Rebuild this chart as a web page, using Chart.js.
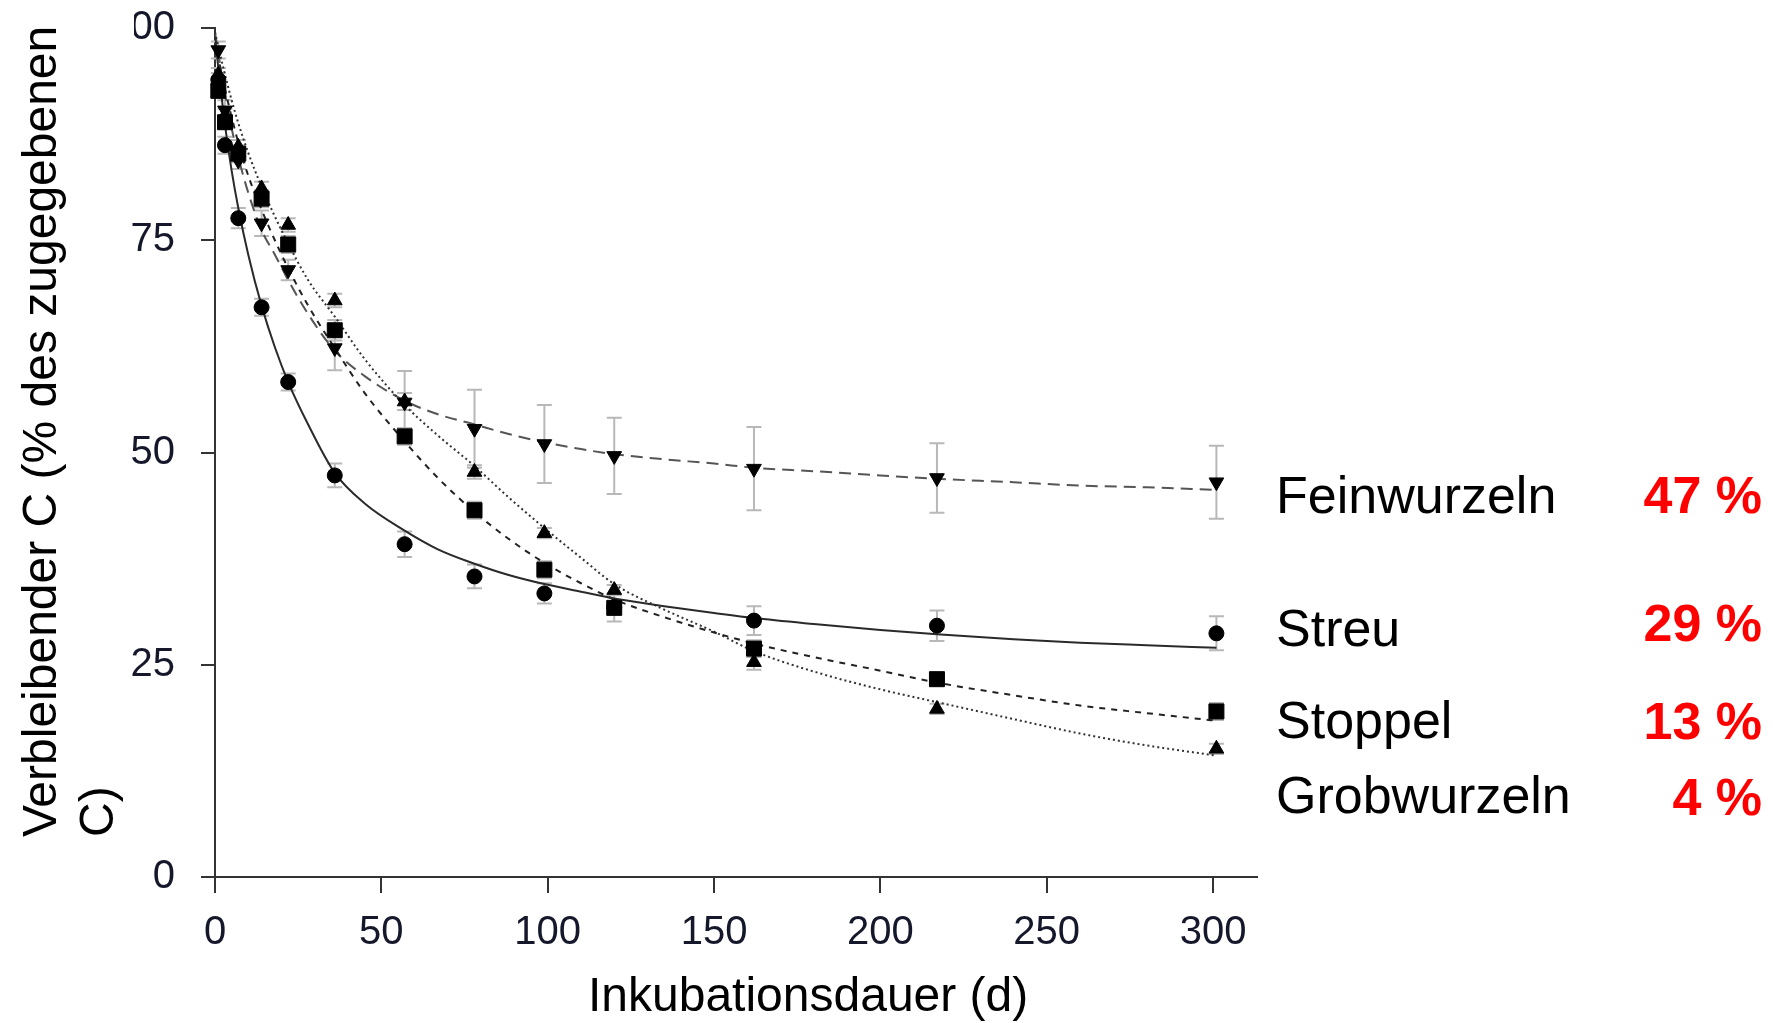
<!DOCTYPE html>
<html lang="de">
<head>
<meta charset="utf-8">
<title>Verbleibender C</title>
<script src="https://cdn.jsdelivr.net/npm/chart.js@4.4.1/dist/chart.umd.min.js"></script>
<style>
  html, body { margin: 0; padding: 0; background: #fff; }
  #wrap { position: relative; width: 1773px; height: 1023px; overflow: hidden; font-family: "Liberation Sans", Arial, sans-serif; }
  #chart { position: absolute; left: 0; top: 0; }
  .ytitle { position: absolute; left: 0; top: 0; transform-origin: 0 0; transform: translate(11px, 837px) rotate(-90deg);
            font-size: 48px; line-height: 57px; white-space: nowrap; color: #000; }
  .xtitle { position: absolute; left: 588px; top: 971px; font-size: 48px; line-height: 48px; white-space: nowrap; color: #000; }
  .lab { position: absolute; left: 1276px; font-size: 52px; line-height: 52px; white-space: nowrap; color: #000; }
  .pct { position: absolute; right: 11px; font-size: 52px; line-height: 52px; font-weight: bold; white-space: nowrap; color: #ff0000; }
</style>
</head>
<body>
<div id="wrap">
  <canvas id="chart" width="1773" height="1023"></canvas>
  <div class="ytitle">Verbleibender C (% des zugegebenen<br>C)</div>
  <div class="xtitle">Inkubationsdauer (d)</div>
</div>
<script>
// sampling days and measured values (% of added C remaining)
const days = [1, 3, 7, 14, 22, 36, 57, 78, 99, 120, 162, 217, 301];
const streu = [93.9, 86.2, 77.6, 67.1, 58.3, 47.3, 39.2, 35.4, 33.4, 31.8, 30.2, 29.6, 28.7];
const stoppel = [92.6, 88.9, 85.2, 79.9, 74.5, 64.4, 51.9, 43.2, 36.2, 31.7, 26.9, 23.3, 19.5];
const grobwurzeln = [94.5, 89.7, 86.0, 81.1, 76.8, 67.9, 56.0, 47.7, 40.5, 33.8, 25.3, 19.8, 15.1];
const feinwurzeln = [97.4, 90.3, 84.4, 77.0, 71.5, 62.3, 55.9, 52.8, 51.0, 49.6, 48.1, 47.0, 46.5];

// error bar half-lengths
const streuErr = [0.8, 1.0, 1.2, 1.0, 1.0, 1.4, 1.5, 1.4, 1.2, 0, 1.7, 1.8, 2.0];
const stoppelErr = [0.8, 0.8, 1.0, 1.0, 1.0, 1.2, 1.0, 1.0, 1.0, 1.6, 1.0, 0.8, 1.0];
const grobErr = [0.8, 0.8, 0.8, 0.8, 0.8, 0.8, 1.0, 0.8, 0.6, 0.6, 0.9, 0.6, 0.6];
const feinErr = [1.0, 1.2, 1.0, 1.5, 1.2, 2.6, 3.7, 4.6, 4.6, 4.5, 4.9, 4.1, 4.3];

// fitted curves
const curveDays = [0, 1, 3, 5, 7, 10, 14, 18, 22, 28, 36, 45, 57, 67, 78, 88, 99, 110, 120, 135, 150, 162, 180, 200, 217, 240, 260, 280, 301];
const streuFit = [99.0, 95.3, 88.6, 83.2, 78.8, 73.3, 67.3, 62.4, 58.3, 53.3, 47.6, 44.0, 40.8, 38.6, 36.9, 35.6, 34.5, 33.6, 32.8, 31.9, 31.1, 30.5, 29.8, 29.1, 28.6, 28.0, 27.6, 27.3, 27.0];
const stoppelFit = [98.5, 96.5, 92.8, 89.5, 86.5, 82.6, 78.6, 75.0, 71.7, 67.3, 62.3, 57.0, 51.3, 47.0, 43.0, 39.9, 37.0, 34.6, 32.7, 30.6, 28.8, 27.5, 25.9, 24.3, 22.9, 21.4, 20.2, 19.3, 18.4];
const grobFit = [99.5, 97.8, 94.5, 91.5, 88.8, 85.3, 81.3, 77.8, 74.6, 70.3, 66.0, 61.0, 55.6, 52.0, 48.4, 44.8, 41.1, 37.6, 34.5, 31.5, 28.9, 26.6, 24.2, 22.1, 20.6, 18.6, 16.9, 15.5, 14.3];
const feinFit = [99.5, 97.0, 92.2, 88.2, 84.8, 80.6, 76.2, 73.3, 70.3, 66.3, 62.0, 59.0, 56.1, 54.5, 53.3, 52.2, 51.2, 50.4, 49.8, 49.2, 48.7, 48.2, 47.8, 47.3, 46.9, 46.5, 46.1, 45.9, 45.6];

const xTicks = [0, 50, 100, 150, 200, 250, 300];
const yTicks = [0, 25, 50, 75, 100];

// side labels: fraction remaining after the incubation
const sideNames = ['Feinwurzeln', 'Streu', 'Stoppel', 'Grobwurzeln'];
const sidePercents = ['47 %', '29 %', '13 %', '4 %'];
const sideNameTop = [469, 602, 694, 769];
const sidePctTop = [469, 597, 695, 771];

const wrap = document.getElementById('wrap');
sideNames.forEach((name, i) => {
    const a = document.createElement('div');
    a.className = 'lab';
    a.style.top = sideNameTop[i] + 'px';
    a.textContent = name;
    wrap.appendChild(a);
    const b = document.createElement('div');
    b.className = 'pct';
    b.style.top = sidePctTop[i] + 'px';
    b.textContent = sidePercents[i];
    wrap.appendChild(b);
});

const pts = (xs, ys) => xs.map((x, i) => ({ x: x, y: ys[i] }));

// gray error bars behind the markers
const errorBars = {
    id: 'errorBars',
    beforeDatasetsDraw(chart) {
        const { ctx, scales: { x, y } } = chart;
        ctx.save();
        ctx.strokeStyle = '#b8b8b8';
        ctx.lineWidth = 2;
        chart.data.datasets.forEach(ds => {
            if (!ds.errors) return;
            ds.data.forEach((p, i) => {
                const e = ds.errors[i];
                if (!e) return;
                const px = x.getPixelForValue(p.x);
                const top = y.getPixelForValue(p.y + e);
                const bot = y.getPixelForValue(p.y - e);
                ctx.beginPath();
                ctx.moveTo(px, top); ctx.lineTo(px, bot);
                ctx.moveTo(px - 7.5, top); ctx.lineTo(px + 7.5, top);
                ctx.moveTo(px - 7.5, bot); ctx.lineTo(px + 7.5, bot);
                ctx.stroke();
            });
        });
        ctx.restore();
    }
};

// the source figure is cropped just left of the y tick labels
const cropLeft = {
    id: 'cropLeft',
    afterDraw(chart) {
        const ctx = chart.ctx;
        ctx.save();
        ctx.fillStyle = '#fff';
        ctx.fillRect(98, 0, 36, 60);
        ctx.restore();
    }
};

const marker = (label, data, errs, style, radius, rotation) => ({
    label: label,
    data: pts(days, data),
    errors: errs,
    showLine: false,
    pointStyle: style,
    pointRadius: radius,
    pointRotation: rotation || 0,
    pointBackgroundColor: '#000',
    pointBorderColor: '#000',
    pointBorderWidth: 1,
    clip: false
});

const curve = (label, data, dash, color) => ({
    label: label,
    data: pts(curveDays, data),
    showLine: true,
    pointRadius: 0,
    borderColor: color,
    borderWidth: 2,
    borderDash: dash,
    cubicInterpolationMode: 'monotone',
    fill: false
});

new Chart(document.getElementById('chart'), {
    type: 'scatter',
    data: {
        datasets: [
            marker('Stoppel', stoppel, stoppelErr, 'rect', 10.6),
            marker('Streu', streu, streuErr, 'circle', 7.5),
            marker('Grobwurzeln', grobwurzeln, grobErr, 'triangle', 8.5),
            marker('Feinwurzeln', feinwurzeln, feinErr, 'triangle', 8.5, 180),
            curve('Streu Fit', streuFit, [], '#2a2a2a'),
            curve('Stoppel Fit', stoppelFit, [6, 6], '#222'),
            curve('Grobwurzeln Fit', grobFit, [2, 3], '#333'),
            curve('Feinwurzeln Fit', feinFit, [12, 7], '#555')
        ]
    },
    options: {
        responsive: false,
        animation: false,
        layout: { padding: { top: 28, right: 516, left: 0, bottom: 0 } },
        plugins: { legend: { display: false }, tooltip: { enabled: false } },
        scales: {
            x: {
                type: 'linear',
                min: 0,
                max: 313.2,
                afterBuildTicks: s => { s.ticks = xTicks.map(v => ({ value: v })); },
                afterFit: s => { s.height = 146; },
                grid: { drawOnChartArea: false, drawTicks: true, tickLength: 16, color: '#333', lineWidth: 2 },
                border: { display: true, color: '#333', width: 2 },
                ticks: { padding: 16, color: '#15182a', font: { family: 'Liberation Sans', size: 40 }, maxRotation: 0 }
            },
            y: {
                type: 'linear',
                min: 0,
                max: 100,
                afterBuildTicks: s => { s.ticks = yTicks.map(v => ({ value: v })); },
                afterFit: s => { s.width = 215; s.paddingTop = 0; s.paddingBottom = 0; },
                grid: { drawOnChartArea: false, drawTicks: true, tickLength: 14, color: '#333', lineWidth: 2 },
                border: { display: true, color: '#333', width: 2 },
                ticks: { padding: 26, color: '#15182a', font: { family: 'Liberation Sans', size: 40 } }
            }
        }
    },
    plugins: [errorBars, cropLeft]
});
</script>
</body>
</html>
